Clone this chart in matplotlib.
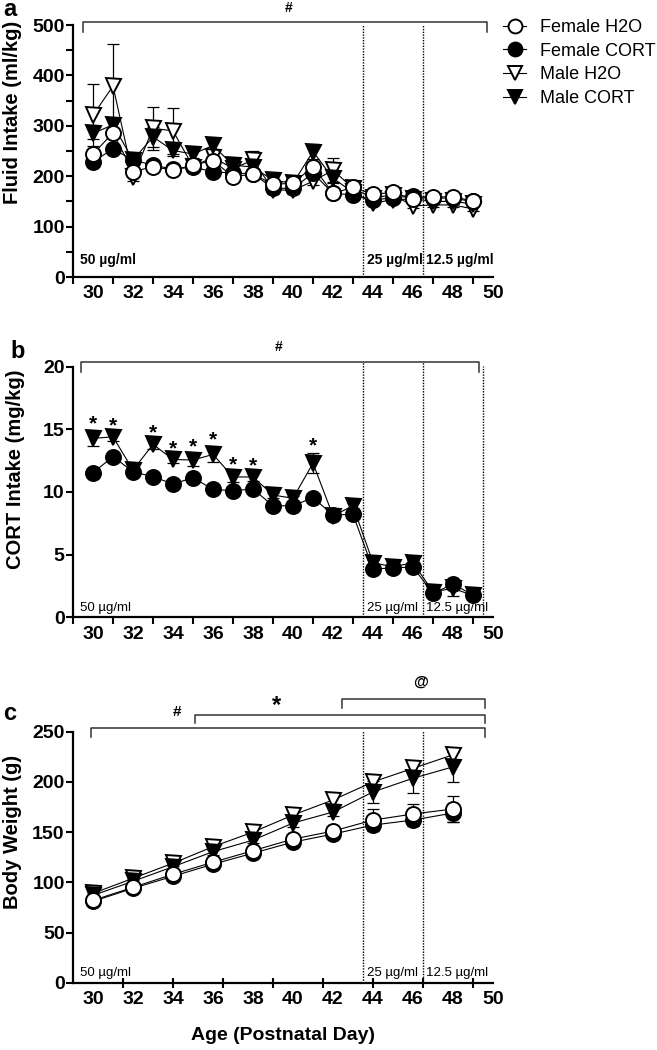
import matplotlib
matplotlib.use('Agg')
import matplotlib.pyplot as plt
from matplotlib.lines import Line2D

plt.rcParams['font.family'] = ['Liberation Sans', 'DejaVu Sans']

# ---------------- data ----------------
days_ab = list(range(30, 50))

# Panel a: fluid intake (ml/kg)
fluid_female_h2o = [244, 286, 209, 219, 212, 222, 231, 199, 204, 184, 186, 219, 166, 178, 164, 168, 155, 159, 159, 151]
fluid_female_cort = [229, 254, 232, 222, 214, 218, 209, 206, 205, 176, 176, 206, 166, 163, 153, 157, 161, 157, 156, 150]
fluid_male_h2o = [321, 379, 199, 295, 290, 219, 238, 215, 232, 173, 172, 190, 212, 176, 157, 163, 141, 143, 143, 135]
fluid_male_cort = [285, 302, 232, 278, 251, 244, 261, 222, 218, 192, 186, 249, 196, 168, 147, 153, 155, 150, 150, 145]
fluid_female_h2o_sem = [8, 10, 6, 6, 6, 6, 6, 6, 6, 5, 5, 8, 5, 5, 5, 5, 5, 5, 5, 5]
fluid_female_cort_sem = [8, 8, 6, 6, 6, 6, 6, 6, 6, 5, 5, 8, 5, 5, 5, 5, 5, 5, 5, 5]
fluid_male_h2o_sem = [61, 83, 8, 43, 46, 8, 8, 8, 18, 8, 8, 8, 25, 8, 5, 5, 5, 5, 5, 5]
fluid_male_cort_sem = [12, 10, 8, 20, 10, 8, 8, 8, 8, 8, 8, 15, 8, 6, 5, 5, 5, 5, 5, 5]

# Panel b: CORT intake (mg/kg)
cort_female = [11.54, 12.82, 11.62, 11.22, 10.64, 11.14, 10.21, 10.10, 10.24, 8.90, 8.90, 9.55, 8.16, 8.22, 3.83, 3.96, 4.00, 1.91, 2.65, 1.78]
cort_male = [14.28, 14.40, 11.75, 13.80, 12.60, 12.55, 13.00, 11.20, 11.20, 9.76, 9.50, 12.30, 8.10, 8.90, 4.35, 4.04, 4.35, 2.04, 2.30, 1.75]
cort_female_sem = [0.2, 0.2, 0.2, 0.2, 0.2, 0.2, 0.2, 0.2, 0.2, 0.2, 0.2, 0.2, 0.2, 0.2, 0.2, 0.2, 0.2, 0.2, 0.4, 0.2]
cort_male_sem = [0.6, 0.3, 0.2, 0.4, 0.3, 0.5, 0.6, 0.4, 0.3, 0.2, 0.2, 0.8, 0.2, 0.2, 0.2, 0.2, 0.2, 0.2, 0.6, 0.2]
cort_star_days = [30, 31, 33, 34, 35, 36, 37, 38, 41]

# Panel c: body weight (g)
days_c = [30, 32, 34, 36, 38, 40, 42, 44, 46, 48]
bw_female_h2o = [82, 95, 108, 120, 131.5, 143, 151, 162, 168, 173]
bw_female_cort = [81, 94, 106, 118, 129, 140, 148, 157, 162, 169]
bw_male_h2o = [89, 104, 119, 135.5, 150, 167, 182, 200, 213.5, 227]
bw_male_cort = [87, 101, 115.5, 130.5, 142, 159, 170, 190, 203.6, 215]
bw_female_h2o_sem = [2, 2, 2, 3, 3, 3, 4, 11, 10, 13]
bw_female_cort_sem = [2, 2, 2, 3, 3, 3, 4, 5, 6, 9]
bw_male_h2o_sem = [2, 2, 3, 3, 3, 4, 4, 5, 5, 5]
bw_male_cort_sem = [2, 2, 3, 3, 3, 4, 4, 11, 15, 15]

legend_labels = ['Female H2O', 'Female CORT', 'Male H2O', 'Male CORT']
dose_labels = ['50 \u00b5g/ml', '25 \u00b5g/ml', '12.5 \u00b5g/ml']
dose_switch_days = [43.5, 46.5]

# ---------------- figure ----------------
W, H = 657, 1050
fig = plt.figure(figsize=(W / 100, H / 100), dpi=100)


def axes_px(left, top, right, bottom):
    return fig.add_axes([left / W, 1 - bottom / H, (right - left) / W, (bottom - top) / H])


ax_a = axes_px(73, 25, 493, 277)
ax_b = axes_px(73, 366.7, 493, 617.3)
ax_c = axes_px(73, 731.7, 493, 982.7)

STY = {
    'Female H2O': dict(marker='o', mfc='white'),
    'Female CORT': dict(marker='o', mfc='black'),
    'Male H2O': dict(marker='v', mfc='white'),
    'Male CORT': dict(marker='v', mfc='black'),
}
MS = 10.8
TICKFS = 14


def draw_series(ax, x, series):
    for name, y, sem in series:
        ax.errorbar(x, y, yerr=sem, fmt='none', ecolor='black', elinewidth=0.9,
                    capsize=4, capthick=0.9, zorder=1)
    for i, (name, y, sem) in enumerate(series):
        ax.plot(x, y, color='black', lw=0.8, marker=STY[name]['marker'], ms=MS,
                mfc=STY[name]['mfc'], mec='black', mew=1.4, zorder=2 + i)


def style_axes(ax, ylim, yticks, yminor=None):
    ax.set_xlim(29, 50)
    ax.set_ylim(*ylim)
    for s in ['top', 'right']:
        ax.spines[s].set_visible(False)
    for s in ['left', 'bottom']:
        ax.spines[s].set_linewidth(1.6)
    ax.set_yticks(yticks)
    ax.set_yticklabels([str(v) for v in yticks], fontsize=TICKFS, fontweight='bold')
    if yminor is not None:
        ax.set_yticks(yminor, minor=True)
    ax.tick_params(axis='y', which='both', direction='out', length=5, width=1.5, pad=1)


def set_xticks(ax, tick_positions, direction):
    ax.xaxis.remove_overlapping_locs = False
    ax.set_xticks(list(range(30, 51, 2)))
    ax.set_xticklabels([str(d) for d in range(30, 51, 2)], fontsize=TICKFS, fontweight='bold')
    ax.tick_params(axis='x', which='major', length=0, pad=6)
    ax.set_xticks(tick_positions, minor=True)
    ax.tick_params(axis='x', which='minor', direction=direction, length=5, width=1.5)


def bracket(ax, x0, x1, y, yl=None, yr=None, color='#333333'):
    xs, ys = [], []
    if yl is not None:
        xs.append(x0); ys.append(yl)
    xs += [x0, x1]; ys += [y, y]
    if yr is not None:
        xs.append(x1); ys.append(yr)
    ax.plot(xs, ys, color=color, lw=1.1, clip_on=False, zorder=5)


def ylabel(ax, text):
    ax.set_ylabel(text, fontsize=14.5, fontweight='bold', va='center')


DOT = (0, (1, 1))

# ---------- Panel a ----------
style_axes(ax_a, (0, 500), [0, 100, 200, 300, 400, 500], list(range(50, 500, 100)))
set_xticks(ax_a, list(range(29, 50, 2)), 'out')
draw_series(ax_a, days_ab, [
    ('Male H2O', fluid_male_h2o, fluid_male_h2o_sem),
    ('Male CORT', fluid_male_cort, fluid_male_cort_sem),
    ('Female CORT', fluid_female_cort, fluid_female_cort_sem),
    ('Female H2O', fluid_female_h2o, fluid_female_h2o_sem),
])
for d in dose_switch_days:
    ax_a.plot([d, d], [0, 500], color='black', lw=1, ls=DOT, zorder=0.5)
bracket(ax_a, 29.5, 49.7, 506, 486, 486)
ax_a.text(39.8, 534, '#', ha='center', va='center', fontsize=10, fontweight='bold')
ax_a.text(29.35, 34, dose_labels[0], ha='left', va='center', fontsize=10, fontweight='bold')
ax_a.text(43.7, 34, dose_labels[1], ha='left', va='center', fontsize=10, fontweight='bold')
ax_a.text(46.67, 34, dose_labels[2], ha='left', va='center', fontsize=10, fontweight='bold')
ylabel(ax_a, 'Fluid Intake (ml/kg)')
ax_a.yaxis.set_label_coords(-0.143, 0.655)

# ---------- Panel b ----------
style_axes(ax_b, (0, 20), [0, 5, 10, 15, 20])
set_xticks(ax_b, list(range(29, 50, 2)), 'out')
draw_series(ax_b, days_ab, [
    ('Male CORT', cort_male, cort_male_sem),
    ('Female CORT', cort_female, cort_female_sem),
])
for d in dose_switch_days:
    ax_b.plot([d, d], [0, 20.35], color='black', lw=1, ls=DOT, zorder=0.5, clip_on=False)
ax_b.plot([49.5, 49.5], [0, 20.05], color='black', lw=1, ls=DOT, zorder=0.5, clip_on=False)
bracket(ax_b, 29.4, 49.3, 20.35, 19.6, 19.6)
ax_b.text(39.3, 21.6, '#', ha='center', va='center', fontsize=10, fontweight='bold')
for d in cort_star_days:
    i = days_ab.index(d)
    ax_b.text(d, cort_male[i] + cort_male_sem[i] + 0.55, '*', ha='center', va='center',
              fontsize=15, fontweight='bold')
ax_b.text(29.35, 0.75, dose_labels[0], ha='left', va='center', fontsize=9.5)
ax_b.text(43.7, 0.75, dose_labels[1], ha='left', va='center', fontsize=9.5)
ax_b.text(46.67, 0.75, dose_labels[2], ha='left', va='center', fontsize=9.5)
ylabel(ax_b, 'CORT Intake (mg/kg)')
ax_b.yaxis.set_label_coords(-0.138, 0.59)

# ---------- Panel c ----------
style_axes(ax_c, (0, 250), [0, 50, 100, 150, 200, 250])
set_xticks(ax_c, [31.5, 34, 36.5, 39, 41.5, 44, 46.5, 49], 'inout')
ax_c.tick_params(axis='x', which='minor', length=7)
draw_series(ax_c, days_c, [
    ('Male H2O', bw_male_h2o, bw_male_h2o_sem),
    ('Male CORT', bw_male_cort, bw_male_cort_sem),
    ('Female CORT', bw_female_cort, bw_female_cort_sem),
    ('Female H2O', bw_female_h2o, bw_female_h2o_sem),
])
for d in dose_switch_days:
    ax_c.plot([d, d], [0, 251], color='black', lw=1, ls=DOT, zorder=0.5, clip_on=False)
bracket(ax_c, 29.9, 49.6, 253.4, 245, 245)
bracket(ax_c, 35.1, 49.6, 266.6, 258.7, 258.7)
bracket(ax_c, 42.46, 49.6, 282.6, 274, 274)
ax_c.text(34.2, 270, '#', ha='center', va='center', fontsize=11, fontweight='bold')
ax_c.text(39.2, 276, '*', ha='center', va='center', fontsize=17, fontweight='bold')
ax_c.text(46.4, 300, '@', ha='center', va='center', fontsize=11, fontweight='bold')
ax_c.text(29.35, 9.7, dose_labels[0], ha='left', va='center', fontsize=9.5)
ax_c.text(43.7, 9.7, dose_labels[1], ha='left', va='center', fontsize=9.5)
ax_c.text(46.67, 9.7, dose_labels[2], ha='left', va='center', fontsize=9.5)
ylabel(ax_c, 'Body Weight (g)')
ax_c.yaxis.set_label_coords(-0.143, 0.6)
ax_c.set_xlabel('Age (Postnatal Day)', fontsize=14, fontweight='bold', labelpad=14)

# panel letters
fig.text(10 / W, 1 - 10 / H, 'a', fontsize=17, fontweight='bold', ha='center', va='center')
fig.text(18 / W, 1 - 352 / H, 'b', fontsize=17, fontweight='bold', ha='center', va='center')
fig.text(10 / W, 1 - 713 / H, 'c', fontsize=17, fontweight='bold', ha='center', va='center')

# legend
handles = [Line2D([], [], color='black', lw=0.8, marker=STY[n]['marker'], ms=10,
                  mfc=STY[n]['mfc'], mec='black', mew=1.4) for n in legend_labels]
fig.legend(handles, legend_labels, loc='upper left', bbox_to_anchor=(503 / W, 1 - 19 / H),
           frameon=False, fontsize=13, handlelength=1.3, handletextpad=0.75,
           labelspacing=0.37, borderpad=0, borderaxespad=0)

fig.savefig('out.png', dpi=100)
